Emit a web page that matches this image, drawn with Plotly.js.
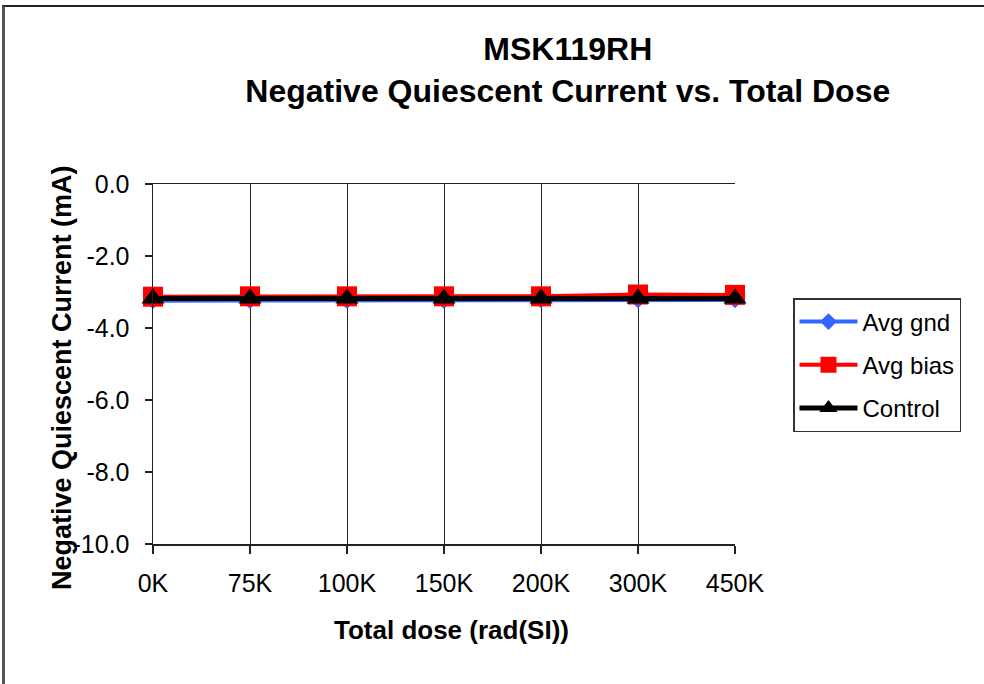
<!DOCTYPE html>
<html>
<head>
<meta charset="utf-8">
<script src="https://cdn.plot.ly/plotly-3.0.1.min.js"></script>
<style>
  html, body { margin: 0; padding: 0; background: #fff; }
  #frame { position: absolute; left: 2px; top: 5px; width: 982px; height: 679px;
           border-top: 2px solid #222; border-left: 3px solid #555; box-sizing: border-box; }
  #chart { position: absolute; left: 0; top: 0; width: 984px; height: 684px; }
</style>
</head>
<body>
<div id="chart"></div>
<div id="frame"></div>
<script>
const categories = ["0K", "75K", "100K", "150K", "200K", "300K", "450K"];
const avgGnd  = [-3.24, -3.24, -3.24, -3.24, -3.22, -3.22, -3.22];
const avgBias = [-3.13, -3.12, -3.12, -3.12, -3.12, -3.07, -3.08];
const control = [-3.18, -3.18, -3.18, -3.18, -3.18, -3.18, -3.18];
const yTickVals = [0, -2, -4, -6, -8, -10];
const yTickText = ["0.0", "-2.0", "-4.0", "-6.0", "-8.0", "-10.0"];

const font = "Liberation Sans, Arial, sans-serif";

const traces = [
  { x: categories, y: avgGnd, name: "Avg gnd", type: "scatter", mode: "lines+markers",
    line: { color: "#3366FF", width: 4 }, marker: { symbol: "diamond", size: 13, color: "#3366FF" },
    cliponaxis: false, legendgroup: "a" },
  { x: categories, y: avgBias, name: "Avg bias", type: "scatter", mode: "lines+markers",
    line: { color: "#FF0000", width: 4 }, marker: { symbol: "square", size: 20, color: "#FF0000" },
    cliponaxis: false, legendgroup: "b" },
  { x: categories, y: control, name: "Control", type: "scatter", mode: "lines+markers",
    line: { color: "#000000", width: 5 }, marker: { symbol: "triangle-up", size: 20, color: "#000000" },
    cliponaxis: false, legendgroup: "c" }
];

const layout = {
  width: 984, height: 684,
  margin: { l: 153, r: 249, t: 184, b: 140 },
  paper_bgcolor: "#fff", plot_bgcolor: "#fff",
  font: { family: font, color: "#000" },
  showlegend: true,
  title: {
    text: "<b>MSK119RH<br>Negative Quiescent Current vs. Total Dose</b>",
    font: { family: font, size: 32, color: "#000" },
    xref: "container", x: 0.577, xanchor: "center",
    yref: "container", y: 1 - 60 / 684, yanchor: "top"
  },
  xaxis: {
    type: "category", range: [0, 6],
    showgrid: true, gridcolor: "#222", gridwidth: 1,
    showline: true, linecolor: "#222", linewidth: 1.5, mirror: true,
    ticks: "outside", ticklen: 8, tickcolor: "#222", tickwidth: 1.5,
    tickfont: { family: font, size: 25, color: "#000" },
    ticklabelstandoff: 8,
    zeroline: false, fixedrange: true
  },
  yaxis: {
    range: [-10, 0], tickvals: yTickVals, ticktext: yTickText,
    showgrid: false, zeroline: false,
    showline: true, linecolor: "#222", linewidth: 1.5,
    ticks: "outside", ticklen: 7, tickcolor: "#222", tickwidth: 1.5,
    tickfont: { family: font, size: 25, color: "#000" },
    ticklabelstandoff: 10, fixedrange: true
  },
  legend: {
    x: (793 - 153) / 582, xanchor: "left",
    y: (544 - 298) / 360, yanchor: "top",
    bgcolor: "#fff", bordercolor: "#333", borderwidth: 1.5,
    font: { family: font, size: 24, color: "#000" },
    tracegroupgap: 9, itemwidth: 58
  },
  annotations: [
    { text: "<b>Negative Quiescent Current (mA)</b>", textangle: -90,
      xref: "paper", yref: "paper", x: (62 - 153) / 582, y: (544 - 378) / 360,
      xanchor: "center", yanchor: "middle", showarrow: false,
      font: { family: font, size: 27, color: "#000" } },
    { text: "<b>Total dose (rad(SI))</b>",
      xref: "paper", yref: "paper", x: (451 - 153) / 582, y: (544 - 630) / 360,
      xanchor: "center", yanchor: "middle", showarrow: false,
      font: { family: font, size: 26, color: "#000" } }
  ]
};

Plotly.newPlot("chart", traces, layout, { displayModeBar: false, staticPlot: true });
</script>
</body>
</html>
